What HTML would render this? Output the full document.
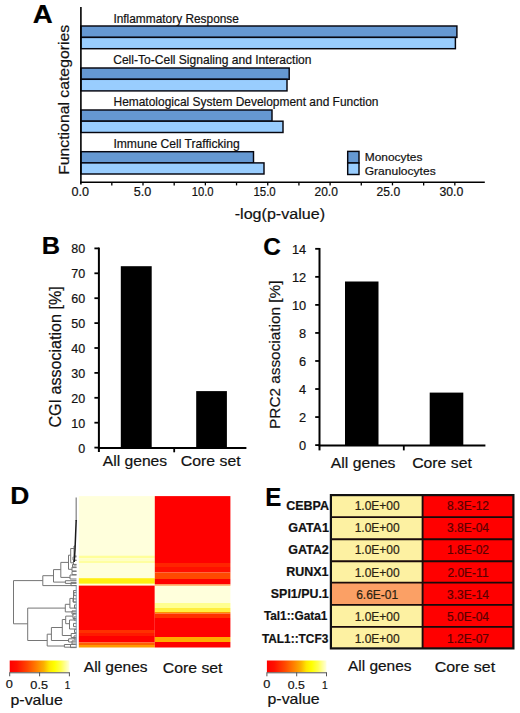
<!DOCTYPE html>
<html><head><meta charset="utf-8"><title>Figure</title>
<style>html,body{margin:0;padding:0;background:#fff;}svg{display:block;}text{font-family:"Liberation Sans", sans-serif;}</style>
</head><body>
<svg width="520" height="713" viewBox="0 0 520 713" font-family='"Liberation Sans", sans-serif'>
<defs><linearGradient id="hc" x1="0" x2="1" y1="0" y2="0">
<stop offset="0" stop-color="#ff0000"/><stop offset="0.12" stop-color="#ff1000"/><stop offset="0.3" stop-color="#ff4800"/>
<stop offset="0.45" stop-color="#ff8000"/><stop offset="0.57" stop-color="#fbb000"/><stop offset="0.66" stop-color="#ffe600"/>
<stop offset="0.75" stop-color="#ffff00"/><stop offset="0.86" stop-color="#ffff50"/><stop offset="1" stop-color="#ffffe0"/></linearGradient></defs>
<rect width="520" height="713" fill="#fff"/>
<text transform="translate(32.69,23.10) scale(1.1063,1.0)" font-size="25" font-weight="700" fill="#000" stroke="#000" stroke-width="0.2">A</text>
<rect x="80.9" y="26.0" width="376.00" height="11.40" fill="#6598d2" stroke="#06060f" stroke-width="1.45"/>
<rect x="80.9" y="37.4" width="374.50" height="11.30" fill="#99cdfe" stroke="#06060f" stroke-width="1.45"/>
<text transform="translate(113.41,22.80) scale(0.9912,1.0)" font-size="12" font-weight="400" fill="#111" stroke="#111" stroke-width="0.2">Inflammatory Response</text>
<rect x="80.9" y="68.0" width="208.30" height="11.30" fill="#6598d2" stroke="#06060f" stroke-width="1.45"/>
<rect x="80.9" y="79.3" width="206.10" height="11.60" fill="#99cdfe" stroke="#06060f" stroke-width="1.45"/>
<text transform="translate(113.19,64.30) scale(1.0066,1.0)" font-size="12" font-weight="400" fill="#111" stroke="#111" stroke-width="0.2">Cell-To-Cell Signaling and Interaction</text>
<rect x="80.9" y="110.0" width="191.10" height="11.20" fill="#6598d2" stroke="#06060f" stroke-width="1.45"/>
<rect x="80.9" y="121.2" width="202.10" height="11.30" fill="#99cdfe" stroke="#06060f" stroke-width="1.45"/>
<text transform="translate(113.50,105.80) scale(0.9962,1.0)" font-size="12" font-weight="400" fill="#111" stroke="#111" stroke-width="0.2">Hematological System Development and Function</text>
<rect x="80.9" y="151.7" width="172.60" height="11.20" fill="#6598d2" stroke="#06060f" stroke-width="1.45"/>
<rect x="80.9" y="162.9" width="183.10" height="11.10" fill="#99cdfe" stroke="#06060f" stroke-width="1.45"/>
<text transform="translate(113.39,147.60) scale(1.0114,1.0)" font-size="12" font-weight="400" fill="#111" stroke="#111" stroke-width="0.2">Immune Cell Trafficking</text>
<line x1="80.9" y1="6.9" x2="80.9" y2="184.5" stroke="#000" stroke-width="1.6"/>
<line x1="80.2" y1="182.2" x2="484.8" y2="182.2" stroke="#000" stroke-width="1.5"/>
<text transform="translate(71.54,196.20) scale(1.0600,1.0)" font-size="11.9" font-weight="400" fill="#111" stroke="#111" stroke-width="0.2">0.0</text>
<line x1="111.82" y1="182" x2="111.82" y2="185.4" stroke="#000" stroke-width="1.3"/>
<line x1="143.00" y1="182" x2="143.00" y2="185.4" stroke="#000" stroke-width="1.3"/>
<text transform="translate(133.84,196.20) scale(1.0600,1.0)" font-size="11.9" font-weight="400" fill="#111" stroke="#111" stroke-width="0.2">5.0</text>
<line x1="174.19" y1="182" x2="174.19" y2="185.4" stroke="#000" stroke-width="1.3"/>
<line x1="205.37" y1="182" x2="205.37" y2="185.4" stroke="#000" stroke-width="1.3"/>
<text transform="translate(191.65,196.20) scale(0.9455,1.0)" font-size="11.9" font-weight="400" fill="#111" stroke="#111" stroke-width="0.2">10.0</text>
<line x1="236.55" y1="182" x2="236.55" y2="185.4" stroke="#000" stroke-width="1.3"/>
<line x1="267.74" y1="182" x2="267.74" y2="185.4" stroke="#000" stroke-width="1.3"/>
<text transform="translate(253.44,196.20) scale(0.9636,1.0)" font-size="11.9" font-weight="400" fill="#111" stroke="#111" stroke-width="0.2">15.0</text>
<line x1="298.92" y1="182" x2="298.92" y2="185.4" stroke="#000" stroke-width="1.3"/>
<line x1="330.10" y1="182" x2="330.10" y2="185.4" stroke="#000" stroke-width="1.3"/>
<text transform="translate(314.49,196.20) scale(1.0091,1.0)" font-size="11.9" font-weight="400" fill="#111" stroke="#111" stroke-width="0.2">20.0</text>
<line x1="361.28" y1="182" x2="361.28" y2="185.4" stroke="#000" stroke-width="1.3"/>
<line x1="392.47" y1="182" x2="392.47" y2="185.4" stroke="#000" stroke-width="1.3"/>
<text transform="translate(376.58,196.20) scale(1.0182,1.0)" font-size="11.9" font-weight="400" fill="#111" stroke="#111" stroke-width="0.2">25.0</text>
<line x1="423.65" y1="182" x2="423.65" y2="185.4" stroke="#000" stroke-width="1.3"/>
<line x1="454.83" y1="182" x2="454.83" y2="185.4" stroke="#000" stroke-width="1.3"/>
<text transform="translate(439.47,196.20) scale(1.0318,1.0)" font-size="11.9" font-weight="400" fill="#111" stroke="#111" stroke-width="0.2">30.0</text>
<text transform="translate(234.74,219.20) scale(1.0590,1.0)" font-size="15.2" font-weight="400" fill="#111" stroke="#111" stroke-width="0.2">-log(p-value)</text>
<text transform="translate(68.90,174.83) rotate(-90) scale(1.0255,1.0)" font-size="15.4" font-weight="400" fill="#111" stroke="#111" stroke-width="0.2">Functional categories</text>
<rect x="347.7" y="151.4" width="11.3" height="11.6" fill="#6598d2" stroke="#06060f" stroke-width="1.45"/>
<rect x="347.7" y="163.0" width="11.3" height="11.5" fill="#99cdfe" stroke="#06060f" stroke-width="1.45"/>
<text transform="translate(364.76,160.80) scale(1.0370,1.0)" font-size="11.5" font-weight="400" fill="#111" stroke="#111" stroke-width="0.2">Monocytes</text>
<text transform="translate(364.75,174.50) scale(1.0470,1.0)" font-size="11.5" font-weight="400" fill="#111" stroke="#111" stroke-width="0.2">Granulocytes</text>
<text transform="translate(41.64,253.80) scale(1.0786,1.0)" font-size="23.5" font-weight="700" fill="#000" stroke="#000" stroke-width="0.2">B</text>
<line x1="98.9" y1="247.60" x2="98.9" y2="452" stroke="#000" stroke-width="2"/>
<line x1="97.9" y1="448" x2="246.4" y2="448" stroke="#000" stroke-width="2"/>
<line x1="174.2" y1="448" x2="174.2" y2="452.3" stroke="#000" stroke-width="1.8"/>
<line x1="94.4" y1="447.60" x2="99" y2="447.60" stroke="#000" stroke-width="1.8"/>
<text x="85.1" y="452.60" font-size="12.5" text-anchor="end" fill="#111" stroke="#111" stroke-width="0.2">0</text>
<line x1="94.4" y1="422.70" x2="99" y2="422.70" stroke="#000" stroke-width="1.8"/>
<text x="85.1" y="427.70" font-size="12.5" text-anchor="end" fill="#111" stroke="#111" stroke-width="0.2">10</text>
<line x1="94.4" y1="397.80" x2="99" y2="397.80" stroke="#000" stroke-width="1.8"/>
<text x="85.1" y="402.80" font-size="12.5" text-anchor="end" fill="#111" stroke="#111" stroke-width="0.2">20</text>
<line x1="94.4" y1="372.90" x2="99" y2="372.90" stroke="#000" stroke-width="1.8"/>
<text x="85.1" y="377.90" font-size="12.5" text-anchor="end" fill="#111" stroke="#111" stroke-width="0.2">30</text>
<line x1="94.4" y1="348.00" x2="99" y2="348.00" stroke="#000" stroke-width="1.8"/>
<text x="85.1" y="353.00" font-size="12.5" text-anchor="end" fill="#111" stroke="#111" stroke-width="0.2">40</text>
<line x1="94.4" y1="323.10" x2="99" y2="323.10" stroke="#000" stroke-width="1.8"/>
<text x="85.1" y="328.10" font-size="12.5" text-anchor="end" fill="#111" stroke="#111" stroke-width="0.2">50</text>
<line x1="94.4" y1="298.20" x2="99" y2="298.20" stroke="#000" stroke-width="1.8"/>
<text x="85.1" y="303.20" font-size="12.5" text-anchor="end" fill="#111" stroke="#111" stroke-width="0.2">60</text>
<line x1="94.4" y1="273.30" x2="99" y2="273.30" stroke="#000" stroke-width="1.8"/>
<text x="85.1" y="278.30" font-size="12.5" text-anchor="end" fill="#111" stroke="#111" stroke-width="0.2">70</text>
<line x1="94.4" y1="248.40" x2="99" y2="248.40" stroke="#000" stroke-width="1.8"/>
<text x="85.1" y="253.40" font-size="12.5" text-anchor="end" fill="#111" stroke="#111" stroke-width="0.2">80</text>
<rect x="120.8" y="266.2" width="30.9" height="181.8" fill="#000"/>
<rect x="196.2" y="391.1" width="30.7" height="56.9" fill="#000"/>
<text transform="translate(102.70,465.80) scale(1.0459,1.0)" font-size="15" font-weight="400" fill="#111" stroke="#111" stroke-width="0.2">All genes</text>
<text transform="translate(180.84,466.20) scale(1.0554,1.0)" font-size="15" font-weight="400" fill="#111" stroke="#111" stroke-width="0.2">Core set</text>
<text transform="translate(60.80,427.51) rotate(-90) scale(1.0117,1.0)" font-size="15.9" font-weight="400" fill="#111" stroke="#111" stroke-width="0.2">CGI association [%]</text>
<text transform="translate(263.24,254.80) scale(1.0600,1.0)" font-size="23" font-weight="700" fill="#000" stroke="#000" stroke-width="0.2">C</text>
<line x1="319.5" y1="248.02" x2="319.5" y2="450.4" stroke="#000" stroke-width="2"/>
<line x1="318.5" y1="445.5" x2="485.4" y2="445.5" stroke="#000" stroke-width="2"/>
<line x1="403.8" y1="445.5" x2="403.8" y2="450.4" stroke="#000" stroke-width="1.8"/>
<line x1="315.2" y1="445.10" x2="319.6" y2="445.10" stroke="#000" stroke-width="1.8"/>
<text x="306.2" y="450.30" font-size="12.8" text-anchor="end" fill="#111" stroke="#111" stroke-width="0.2">0</text>
<line x1="315.2" y1="417.06" x2="319.6" y2="417.06" stroke="#000" stroke-width="1.8"/>
<text x="306.2" y="422.26" font-size="12.8" text-anchor="end" fill="#111" stroke="#111" stroke-width="0.2">2</text>
<line x1="315.2" y1="389.02" x2="319.6" y2="389.02" stroke="#000" stroke-width="1.8"/>
<text x="306.2" y="394.22" font-size="12.8" text-anchor="end" fill="#111" stroke="#111" stroke-width="0.2">4</text>
<line x1="315.2" y1="360.98" x2="319.6" y2="360.98" stroke="#000" stroke-width="1.8"/>
<text x="306.2" y="366.18" font-size="12.8" text-anchor="end" fill="#111" stroke="#111" stroke-width="0.2">6</text>
<line x1="315.2" y1="332.94" x2="319.6" y2="332.94" stroke="#000" stroke-width="1.8"/>
<text x="306.2" y="338.14" font-size="12.8" text-anchor="end" fill="#111" stroke="#111" stroke-width="0.2">8</text>
<line x1="315.2" y1="304.90" x2="319.6" y2="304.90" stroke="#000" stroke-width="1.8"/>
<text x="306.2" y="310.10" font-size="12.8" text-anchor="end" fill="#111" stroke="#111" stroke-width="0.2">10</text>
<line x1="315.2" y1="276.86" x2="319.6" y2="276.86" stroke="#000" stroke-width="1.8"/>
<text x="306.2" y="282.06" font-size="12.8" text-anchor="end" fill="#111" stroke="#111" stroke-width="0.2">12</text>
<line x1="315.2" y1="248.82" x2="319.6" y2="248.82" stroke="#000" stroke-width="1.8"/>
<text x="306.2" y="254.02" font-size="12.8" text-anchor="end" fill="#111" stroke="#111" stroke-width="0.2">14</text>
<rect x="345" y="281.5" width="33.5" height="164.0" fill="#000"/>
<rect x="429.7" y="392.6" width="33.6" height="52.9" fill="#000"/>
<text transform="translate(330.80,467.50) scale(1.0492,1.0)" font-size="15" font-weight="400" fill="#111" stroke="#111" stroke-width="0.2">All genes</text>
<text transform="translate(412.14,467.50) scale(1.0554,1.0)" font-size="15" font-weight="400" fill="#111" stroke="#111" stroke-width="0.2">Core set</text>
<text transform="translate(280.40,428.90) rotate(-90) scale(1.0027,1.0)" font-size="15.3" font-weight="400" fill="#111" stroke="#111" stroke-width="0.2">PRC2 association [%]</text>
<text transform="translate(10.30,504.00) scale(1.1000,1.0)" font-size="24" font-weight="700" fill="#000" stroke="#000" stroke-width="0.2">D</text>
<rect x="78.8" y="496.1" width="76.0" height="59.50" fill="#ffffdc"/>
<rect x="78.8" y="555.6" width="76.0" height="2.60" fill="#ffff9a"/>
<rect x="78.8" y="558.2" width="76.0" height="2.40" fill="#ffffc4"/>
<rect x="78.8" y="560.6" width="76.0" height="2.80" fill="#ffffa0"/>
<rect x="78.8" y="563.4" width="76.0" height="14.80" fill="#ffffdc"/>
<rect x="78.8" y="578.2" width="76.0" height="5.60" fill="#ffee10"/>
<rect x="78.8" y="583.8" width="76.0" height="1.80" fill="#ffffd0"/>
<rect x="78.8" y="585.6" width="76.0" height="44.40" fill="#ff0000"/>
<rect x="78.8" y="630" width="76.0" height="3.00" fill="#ff3000"/>
<rect x="78.8" y="633" width="76.0" height="3.00" fill="#ff1a00"/>
<rect x="78.8" y="636" width="76.0" height="6.50" fill="#ff0000"/>
<rect x="78.8" y="642.5" width="76.0" height="2.50" fill="#ff6000"/>
<rect x="78.8" y="645" width="76.0" height="2.50" fill="#ff9a00"/>
<rect x="154.8" y="496.1" width="75.6" height="66.90" fill="#ff0000"/>
<rect x="154.8" y="563" width="75.6" height="4.00" fill="#ff2400"/>
<rect x="154.8" y="567" width="75.6" height="5.50" fill="#ff1000"/>
<rect x="154.8" y="572.5" width="75.6" height="6.50" fill="#ff4a00"/>
<rect x="154.8" y="579" width="75.6" height="5.40" fill="#ff0000"/>
<rect x="154.8" y="584.4" width="75.6" height="1.40" fill="#ff9a40"/>
<rect x="154.8" y="585.8" width="75.6" height="17.20" fill="#ffffdc"/>
<rect x="154.8" y="603" width="75.6" height="5.00" fill="#ffff90"/>
<rect x="154.8" y="608" width="75.6" height="4.00" fill="#ffee40"/>
<rect x="154.8" y="612" width="75.6" height="1.50" fill="#ff9000"/>
<rect x="154.8" y="613.5" width="75.6" height="4.50" fill="#ff3000"/>
<rect x="154.8" y="618" width="75.6" height="19.00" fill="#ff0000"/>
<rect x="154.8" y="637" width="75.6" height="5.00" fill="#ffaa00"/>
<rect x="154.8" y="642" width="75.6" height="5.50" fill="#ff0000"/>
<path d="M13.5 580.6L13.5 623.8 M13.5 580.6L42.8 580.6 M13.5 623.8L27.7 623.8 M42.8 575.7L42.8 585.6 M42.8 575.7L53.5 575.7 M42.8 585.6L76.5 585.6 M53.5 569.6L53.5 582.1 M53.5 569.6L60.8 569.6 M53.5 582.1L65.4 582.1 M65.4 580.7L65.4 583.4 M65.4 580.7L76.5 580.7 M65.4 583.4L76.5 583.4 M60.8 562.4L60.8 577.4 M60.8 562.4L68.5 562.4 M60.8 577.4L70.0 577.4 M70.0 575.0L70.0 579.0 M70.0 575.0L76.5 575.0 M70.0 579.0L76.5 579.0 M68.5 555.2L68.5 569.3 M68.5 555.2L70.7 555.2 M68.5 569.3L72.0 569.3 M72.0 567.0L72.0 571.0 M72.0 567.0L76.5 567.0 M72.0 571.0L76.5 571.0 M70.7 548.5L70.7 562.8 M70.7 548.5L74.0 548.5 M70.7 562.8L73.5 562.8 M73.5 560.5L73.5 565.0 M73.5 560.5L76.5 560.5 M73.5 565.0L76.5 565.0 M74.0 546.0L74.0 556.0 M74.0 546.0L75.0 546.0 M74.0 556.0L76.5 556.0 M27.7 608.1L27.7 640.5 M27.7 608.1L65.3 608.1 M27.7 640.5L47.2 640.5 M65.3 604.3L65.3 611.9 M65.3 604.3L69.9 604.3 M65.3 611.9L76.5 611.9 M69.9 598.4L69.9 608.1 M69.9 598.4L73.5 598.4 M69.9 608.1L76.5 608.1 M73.5 590.5L73.5 602.0 M73.5 590.5L76.5 590.5 M73.5 602.0L76.5 602.0 M47.2 634.2L47.2 646.0 M47.2 634.2L51.4 634.2 M47.2 646.0L64.4 646.0 M64.4 644.5L64.4 647.2 M64.4 644.5L76.5 644.5 M64.4 647.2L76.5 647.2 M51.4 627.5L51.4 640.5 M51.4 627.5L62.3 627.5 M51.4 640.5L68.6 640.5 M68.6 638.8L68.6 642.0 M68.6 638.8L76.5 638.8 M68.6 642.0L76.5 642.0 M62.3 619.5L62.3 635.5 M62.3 619.5L65.7 619.5 M62.3 635.5L71.2 635.5 M71.2 633.5L71.2 637.5 M71.2 633.5L76.5 633.5 M71.2 637.5L76.5 637.5 M65.7 616.1L65.7 623.7 M65.7 616.1L73.0 616.1 M65.7 623.7L69.5 623.7 M73.0 613.5L73.0 618.5 M73.0 613.5L76.5 613.5 M73.0 618.5L76.5 618.5 M69.5 620.0L69.5 629.0 M69.5 620.0L76.5 620.0 M69.5 629.0L76.5 629.0 M73.0 556.9L73.0 560.1 M73.0 556.9L76.5 556.9 M73.0 560.1L76.5 560.1 M72.5 564.4L72.5 567.6 M72.5 564.4L76.5 564.4 M72.5 567.6L76.5 567.6 M72.0 571.4L72.0 574.6 M72.0 571.4L76.5 571.4 M72.0 574.6L76.5 574.6 M71.0 582.4L71.0 585.6 M71.0 582.4L76.5 582.4 M71.0 585.6L76.5 585.6 M74.0 592.4L74.0 595.6 M74.0 592.4L76.5 592.4 M74.0 595.6L76.5 595.6 M73.0 598.9L73.0 602.1 M73.0 598.9L76.5 598.9 M73.0 602.1L76.5 602.1 M74.5 604.9L74.5 608.1 M74.5 604.9L76.5 604.9 M74.5 608.1L76.5 608.1 M72.0 610.9L72.0 614.1 M72.0 610.9L76.5 610.9 M72.0 614.1L76.5 614.1 M74.0 616.9L74.0 620.1 M74.0 616.9L76.5 616.9 M74.0 620.1L76.5 620.1 M73.5 623.4L73.5 626.6 M73.5 623.4L76.5 623.4 M73.5 626.6L76.5 626.6 M74.5 629.4L74.5 632.6 M74.5 629.4L76.5 629.4 M74.5 632.6L76.5 632.6 M74.0 635.9L74.0 639.1 M74.0 635.9L76.5 635.9 M74.0 639.1L76.5 639.1 M72.0 640.9L72.0 644.1 M72.0 640.9L76.5 640.9 M72.0 644.1L76.5 644.1 M70.5 644.4L70.5 647.6 M70.5 644.4L76.5 644.4 M70.5 647.6L76.5 647.6" stroke="#767676" stroke-width="1" fill="none"/>
<path d="M76.2 497.5V521" stroke="#8a8a8a" stroke-width="1.3" fill="none"/>
<path d="M76.2 520L75.6 535L75.0 550L74.2 562" stroke="#1a1a1a" stroke-width="1.5" fill="none"/>
<path d="M76.3 586V647.5" stroke="#8fa4b8" stroke-width="1.4" fill="none" opacity="0.8"/>
<text transform="translate(83.80,672.00) scale(1.0617,1.0)" font-size="14.6" font-weight="400" fill="#111" stroke="#111" stroke-width="0.2">All genes</text>
<text transform="translate(162.72,672.50) scale(1.0833,1.0)" font-size="14.6" font-weight="400" fill="#111" stroke="#111" stroke-width="0.2">Core set</text>
<rect x="9.7" y="660.5" width="59.7" height="11.8" fill="url(#hc)"/>
<path d="M9.7 672.8H69.4 M9.7 672.3V676.3 M39.6 672.3V676.3 M69.4 672.3V676.3" stroke="#555" stroke-width="1" fill="none"/>
<text transform="translate(5.76,688.20) scale(1.1400,1.0)" font-size="11.2" font-weight="400" fill="#111" stroke="#111" stroke-width="0.2">0</text>
<text transform="translate(30.36,689.20) scale(1.1357,1.0)" font-size="11.2" font-weight="400" fill="#111" stroke="#111" stroke-width="0.2">0.5</text>
<text transform="translate(64.72,689.20) scale(0.8800,1.0)" font-size="11.2" font-weight="400" fill="#111" stroke="#111" stroke-width="0.2">1</text>
<text transform="translate(10.46,704.60) scale(1.0367,1.0)" font-size="15.4" font-weight="400" fill="#111" stroke="#111" stroke-width="0.2">p-value</text>
<text transform="translate(265.37,506.00) scale(0.9643,1.0)" font-size="25" font-weight="700" fill="#000" stroke="#000" stroke-width="0.2">E</text>
<rect x="330.9" y="495.10" width="91.7" height="22.00" fill="#fdf1a2"/>
<rect x="422.6" y="495.10" width="90.8" height="22.00" fill="#ff0000"/>
<text x="377.2" y="510.20" font-size="12" text-anchor="middle" fill="#2a2210" stroke="#2a2210" stroke-width="0.2">1.0E+00</text>
<text x="468.0" y="510.20" font-size="12" text-anchor="middle" fill="#5a0000" stroke="#5a0000" stroke-width="0.2">8.3E-12</text>
<text transform="translate(286.15,509.80) scale(1.0487,1.0)" font-size="11.9" font-weight="700" fill="#111" stroke="#111" stroke-width="0.2">CEBPA</text>
<rect x="330.9" y="517.10" width="91.7" height="22.10" fill="#fdf1a2"/>
<rect x="422.6" y="517.10" width="90.8" height="22.10" fill="#ff0000"/>
<text x="377.2" y="532.33" font-size="12" text-anchor="middle" fill="#2a2210" stroke="#2a2210" stroke-width="0.2">1.0E+00</text>
<text x="468.0" y="532.33" font-size="12" text-anchor="middle" fill="#5a0000" stroke="#5a0000" stroke-width="0.2">3.8E-04</text>
<text transform="translate(288.14,531.93) scale(1.0568,1.0)" font-size="11.9" font-weight="700" fill="#111" stroke="#111" stroke-width="0.2">GATA1</text>
<rect x="330.9" y="539.20" width="91.7" height="22.00" fill="#fdf1a2"/>
<rect x="422.6" y="539.20" width="90.8" height="22.00" fill="#ff0000"/>
<text x="377.2" y="554.46" font-size="12" text-anchor="middle" fill="#2a2210" stroke="#2a2210" stroke-width="0.2">1.0E+00</text>
<text x="468.0" y="554.46" font-size="12" text-anchor="middle" fill="#5a0000" stroke="#5a0000" stroke-width="0.2">1.8E-02</text>
<text transform="translate(288.25,554.06) scale(1.0514,1.0)" font-size="11.9" font-weight="700" fill="#111" stroke="#111" stroke-width="0.2">GATA2</text>
<rect x="330.9" y="561.20" width="91.7" height="21.40" fill="#fdf1a2"/>
<rect x="422.6" y="561.20" width="90.8" height="21.40" fill="#ff0000"/>
<text x="377.2" y="576.59" font-size="12" text-anchor="middle" fill="#2a2210" stroke="#2a2210" stroke-width="0.2">1.0E+00</text>
<text x="468.0" y="576.59" font-size="12" text-anchor="middle" fill="#5a0000" stroke="#5a0000" stroke-width="0.2">2.0E-11</text>
<text transform="translate(286.25,576.19) scale(1.0487,1.0)" font-size="11.9" font-weight="700" fill="#111" stroke="#111" stroke-width="0.2">RUNX1</text>
<rect x="330.9" y="582.60" width="91.7" height="22.30" fill="#fba065"/>
<rect x="422.6" y="582.60" width="90.8" height="22.30" fill="#ff0000"/>
<text x="377.2" y="598.72" font-size="12" text-anchor="middle" fill="#2a2210" stroke="#2a2210" stroke-width="0.2">6.6E-01</text>
<text x="468.0" y="598.72" font-size="12" text-anchor="middle" fill="#5a0000" stroke="#5a0000" stroke-width="0.2">3.3E-14</text>
<text transform="translate(270.86,598.32) scale(1.0426,1.0)" font-size="11.9" font-weight="700" fill="#111" stroke="#111" stroke-width="0.2">SPI1/PU.1</text>
<rect x="330.9" y="604.90" width="91.7" height="22.00" fill="#fdf1a2"/>
<rect x="422.6" y="604.90" width="90.8" height="22.00" fill="#ff0000"/>
<text x="377.2" y="620.85" font-size="12" text-anchor="middle" fill="#2a2210" stroke="#2a2210" stroke-width="0.2">1.0E+00</text>
<text x="468.0" y="620.85" font-size="12" text-anchor="middle" fill="#5a0000" stroke="#5a0000" stroke-width="0.2">5.0E-04</text>
<text transform="translate(263.90,620.45) scale(0.9938,1.0)" font-size="11.9" font-weight="700" fill="#111" stroke="#111" stroke-width="0.2">Tal1::Gata1</text>
<rect x="330.9" y="626.90" width="91.7" height="21.50" fill="#fdf1a2"/>
<rect x="422.6" y="626.90" width="90.8" height="21.50" fill="#ff0000"/>
<text x="377.2" y="642.98" font-size="12" text-anchor="middle" fill="#2a2210" stroke="#2a2210" stroke-width="0.2">1.0E+00</text>
<text x="468.0" y="642.98" font-size="12" text-anchor="middle" fill="#5a0000" stroke="#5a0000" stroke-width="0.2">1.2E-07</text>
<text transform="translate(261.90,642.58) scale(0.9985,1.0)" font-size="11.9" font-weight="700" fill="#111" stroke="#111" stroke-width="0.2">TAL1::TCF3</text>
<path d="M330.9 517.10H513.4 M330.9 539.20H513.4 M330.9 561.20H513.4 M330.9 582.60H513.4 M330.9 604.90H513.4 M330.9 626.90H513.4 M422.6 495.1V648.4" stroke="#1a0a0a" stroke-width="1.9" fill="none"/>
<rect x="330.9" y="495.1" width="182.5" height="153.3" fill="none" stroke="#111" stroke-width="2.2"/>
<text transform="translate(348.00,671.40) scale(1.0583,1.0)" font-size="14.6" font-weight="400" fill="#111" stroke="#111" stroke-width="0.2">All genes</text>
<text transform="translate(434.71,671.90) scale(1.0944,1.0)" font-size="14.6" font-weight="400" fill="#111" stroke="#111" stroke-width="0.2">Core set</text>
<rect x="266.9" y="660.5" width="59.6" height="11.8" fill="url(#hc)"/>
<path d="M266.9 672.8H326.5 M266.9 672.3V676.3 M296.7 672.3V676.3 M326.5 672.3V676.3" stroke="#555" stroke-width="1" fill="none"/>
<text transform="translate(263.16,688.20) scale(1.1400,1.0)" font-size="11.2" font-weight="400" fill="#111" stroke="#111" stroke-width="0.2">0</text>
<text transform="translate(287.70,689.20) scale(1.1000,1.0)" font-size="11.2" font-weight="400" fill="#111" stroke="#111" stroke-width="0.2">0.5</text>
<text transform="translate(321.98,689.20) scale(0.9200,1.0)" font-size="11.2" font-weight="400" fill="#111" stroke="#111" stroke-width="0.2">1</text>
<text transform="translate(267.47,703.80) scale(1.0347,1.0)" font-size="15.4" font-weight="400" fill="#111" stroke="#111" stroke-width="0.2">p-value</text>
</svg>
</body></html>
